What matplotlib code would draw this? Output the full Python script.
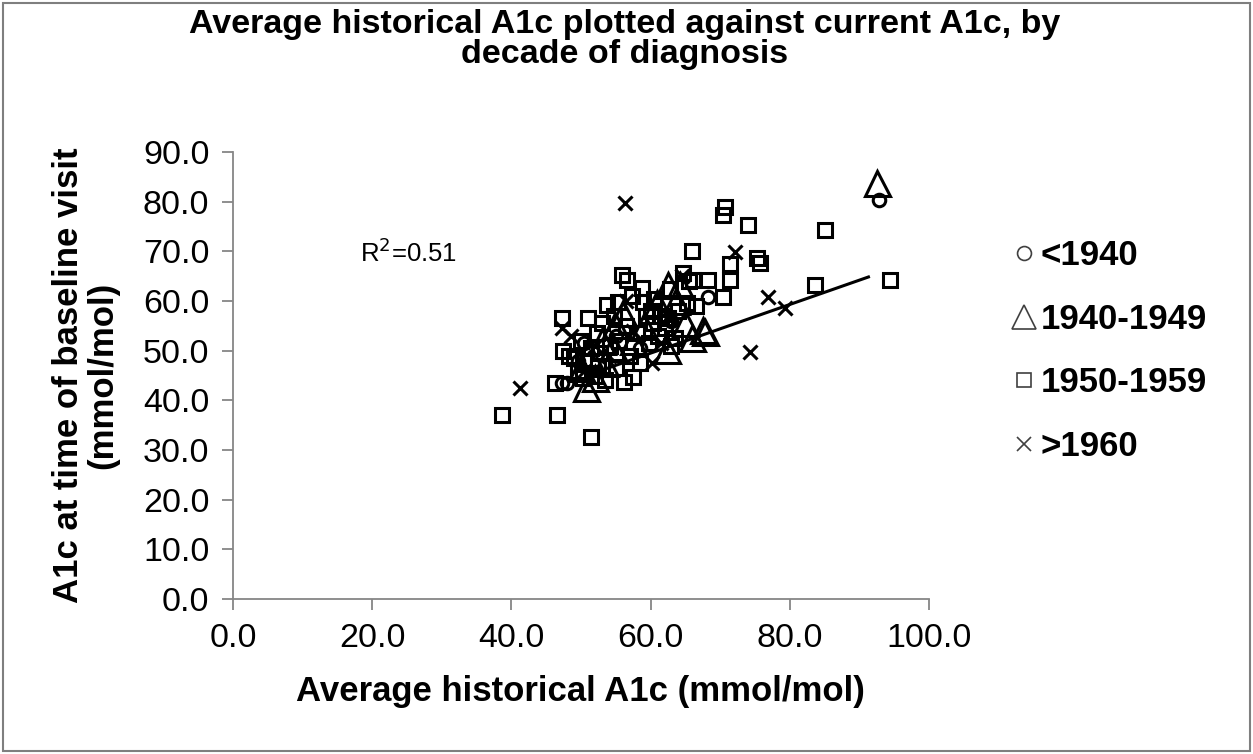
import matplotlib
matplotlib.use("Agg")
import matplotlib.pyplot as plt
from matplotlib.lines import Line2D
from matplotlib.patches import Rectangle

plt.rcParams['font.family'] = ['Liberation Sans', 'DejaVu Sans']

# ---------------- data ----------------
# <1940
circ_x = [92.8, 68.3, 47.3, 48.0, 50.5, 55.0, 58.5, 63.0, 49.5]
circ_y = [80.3, 60.8, 43.5, 43.5, 51.5, 53.0, 50.5, 56.0, 48.0]

# 1940-1949
tri_x = [92.5, 50.7, 52.0, 51.0, 53.5, 54.9, 54.6, 56.0, 57.5, 59.0, 60.9, 62.4,
         62.5, 63.6, 64.2, 65.0, 66.0, 67.5, 67.8, 50.0, 53.0]
tri_y = [83.7, 42.5, 44.5, 49.5, 47.5, 55.2, 50.7, 57.5, 52.0, 55.0, 59.6, 50.1,
         63.2, 60.0, 63.2, 55.5, 52.5, 54.2, 53.8, 46.5, 52.0]

# 1950-1959
sq_x = [38.6, 46.5, 51.4, 46.2, 47.3, 47.4, 49.0, 49.5, 50.0, 50.5, 51.0, 51.5,
        52.0, 52.3, 52.5, 53.0, 53.5, 53.7, 54.2, 55.0, 55.3, 55.9, 56.6, 56.2,
        56.5, 57.0, 57.5, 58.0, 58.8, 58.9, 59.3, 59.8, 60.3, 61.0, 61.5, 62.0,
        62.5, 63.0, 63.5, 64.0, 64.7, 65.2, 65.5, 66.1, 66.0, 68.2, 70.4, 71.4,
        71.4, 70.7, 70.4, 74.0, 75.3, 75.7, 85.1, 83.6, 94.4, 48.3, 50.3, 54.8,
        57.3, 60.5, 62.8, 66.5, 52.8, 55.5, 58.5, 60.0]
sq_y = [37.0, 37.0, 32.6, 43.4, 56.6, 50.0, 48.5, 46.0, 52.0, 48.0, 56.6, 50.5,
        45.0, 53.5, 47.0, 55.5, 44.0, 59.2, 51.0, 46.5, 59.8, 65.2, 64.2, 43.7,
        55.0, 49.0, 44.7, 53.5, 62.6, 59.8, 57.0, 51.5, 55.5, 53.0, 57.0, 54.5,
        56.5, 51.0, 52.5, 58.0, 65.6, 59.6, 64.0, 64.2, 70.0, 64.2, 60.8, 64.2,
        67.4, 78.9, 77.3, 75.3, 68.6, 67.6, 74.3, 63.2, 64.2, 49.0, 44.5, 57.0,
        61.0, 60.5, 62.5, 59.0, 49.5, 52.0, 47.5, 58.0]

# >1960
x_x = [56.3, 41.2, 47.3, 48.5, 52.0, 54.0, 57.5, 60.2, 61.5, 64.5, 72.1, 76.9,
       79.3, 74.3, 56.5, 50.5]
x_y = [79.7, 42.5, 54.6, 53.0, 51.0, 49.0, 54.0, 47.5, 51.5, 65.0, 69.9, 60.8,
       58.6, 49.7, 60.0, 46.0]

# trend line
trend_slope = 0.49
trend_intercept = 20.1
trend_x = [51.0, 91.3]

series_labels = ['<1940', '1940-1949', '1950-1959', '>1960']
r2_text = 'R$^2$=0.51'
title_lines = ['Average historical A1c plotted against current A1c, by',
               'decade of diagnosis']
xlabel = 'Average historical A1c (mmol/mol)'
ylabel = 'A1c at time of baseline visit\n(mmol/mol)'
xticks = [0, 20, 40, 60, 80, 100]
yticks = [0, 10, 20, 30, 40, 50, 60, 70, 80, 90]

# ---------------- figure ----------------
W, H = 1253, 754
fig = plt.figure(figsize=(W / 100, H / 100), dpi=100)
fig.patch.set_facecolor('white')
fig.add_artist(Rectangle((3 / W, 3 / H), 1 - 6 / W, 1 - 6 / H, transform=fig.transFigure,
                         fill=False, edgecolor='#7f7f7f', linewidth=1.5))

ax = fig.add_axes([233 / W, 1 - 599 / H, (929 - 233) / W, (599 - 152) / H])
ax.set_xlim(0, 100)
ax.set_ylim(0, 90)

mk = dict(linestyle='none', markerfacecolor='none', markeredgecolor='black', markeredgewidth=2.2)
ax.plot(sq_x, sq_y, marker='s', markersize=10.5, **mk, zorder=3)
ax.plot(tri_x, tri_y, marker='^', markersize=18, **mk, zorder=4)
ax.plot(circ_x, circ_y, marker='o', markersize=9, **mk, zorder=5)
ax.plot(x_x, x_y, marker='x', markersize=9.5, **mk, zorder=6)

ty = [trend_intercept + trend_slope * v for v in trend_x]
ax.plot(trend_x, ty, color='black', linewidth=2.2, zorder=7)

ax.text(18.2, 69.7, r2_text, fontsize=18.5, ha='left', va='center')

for s in ['top', 'right']:
    ax.spines[s].set_visible(False)
for s in ['left', 'bottom']:
    ax.spines[s].set_color('#868686')
    ax.spines[s].set_linewidth(1.3)
ax.set_xticks(xticks)
ax.set_yticks(yticks)
ax.set_xticklabels([f'{v:.1f}' for v in xticks])
ax.set_yticklabels([f'{v:.1f}' for v in yticks])
ax.tick_params(axis='both', direction='out', length=8, width=1.3, color='#868686',
               labelsize=24.5, pad=9)

ax.set_xlabel(xlabel, fontsize=25, fontweight='bold')
ax.set_ylabel(ylabel, fontsize=25, fontweight='bold', linespacing=1.05)
ax.xaxis.set_label_coords((580 - 233) / 696, (599 - 675) / 447)
ax.yaxis.set_label_coords((119 - 233) / 696, 0.5)

fig.text(625 / W, 1 - 24 / H, title_lines[0], fontsize=24.5, fontweight='bold',
         ha='center', va='center')
fig.text(625 / W, 1 - 55 / H, title_lines[1], fontsize=24.5, fontweight='bold',
         ha='center', va='center')

leg_style = dict(linestyle='none', markerfacecolor='none', markeredgecolor='#404040',
                 markeredgewidth=1.2)
handles = [
    Line2D([], [], marker='o', markersize=10, **leg_style),
    Line2D([], [], marker='^', markersize=17, **leg_style),
    Line2D([], [], marker='s', markersize=10, **leg_style),
    Line2D([], [], marker='x', markersize=10.5, **leg_style),
]
leg = fig.legend(handles, series_labels, loc='center left',
                 bbox_to_anchor=(994 / W, 1 - 351 / H), frameon=False,
                 prop={'size': 25, 'weight': 'bold'}, handlelength=0.7,
                 handletextpad=0.15, labelspacing=0.88, borderpad=0)

fig.savefig('out.png', dpi=100)
